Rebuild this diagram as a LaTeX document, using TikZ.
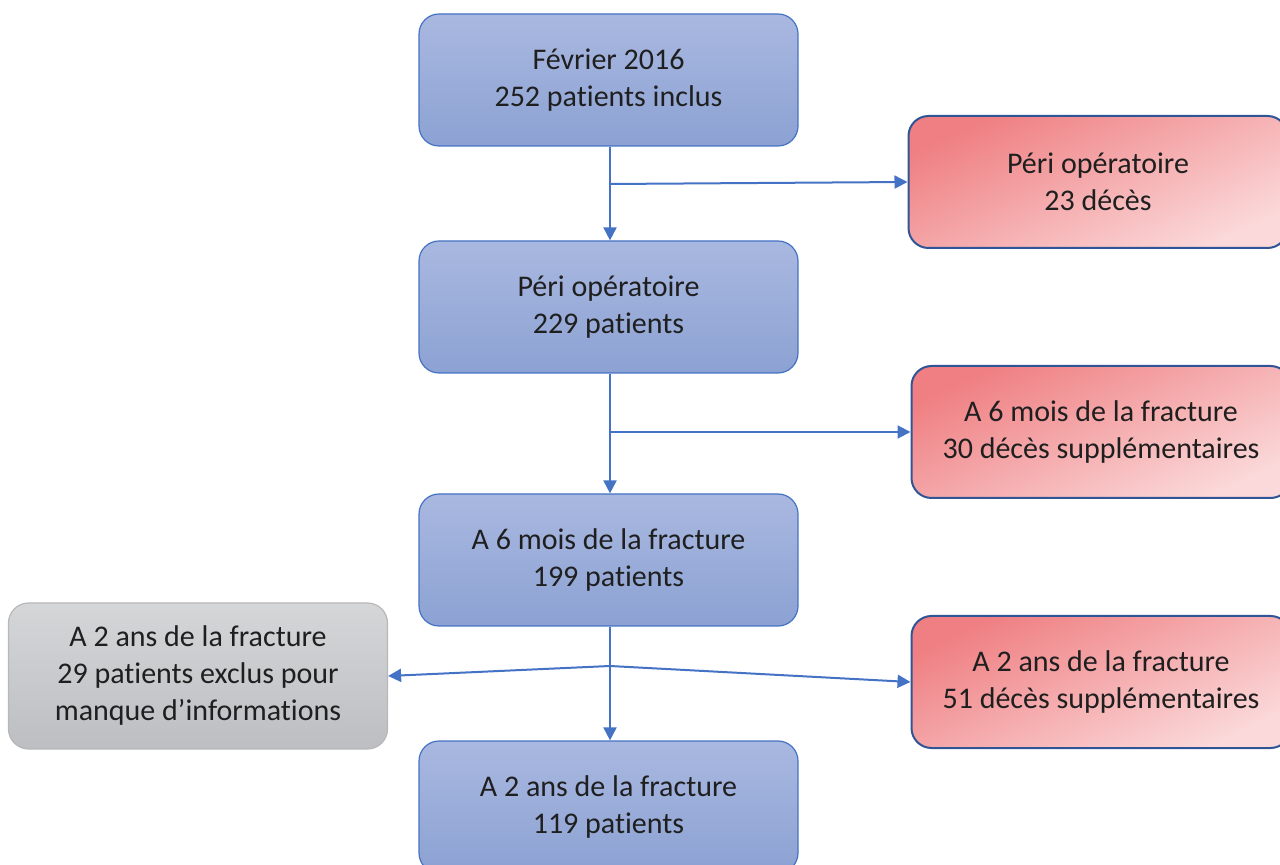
\documentclass[tikz,border=0pt]{standalone}
\usepackage{fontspec}
\setmainfont{Carlito}[Ligatures=NoCommon]
\usetikzlibrary{arrows.meta}

\definecolor{bluetop}{HTML}{A9B8E0}
\definecolor{bluebot}{HTML}{8CA2D3}
\definecolor{blueline}{HTML}{4472C4}
\definecolor{redtop}{HTML}{EF7F82}
\definecolor{redbot}{HTML}{FBD9DA}
\definecolor{redline}{HTML}{2F5597}
\definecolor{greytop}{HTML}{D5D6D8}
\definecolor{greybot}{HTML}{BDBEC1}
\definecolor{greyline}{HTML}{B8B8B8}
\definecolor{txt}{HTML}{1F1F1F}

\begin{document}
\begin{tikzpicture}[x=0.5pt, y=-0.5pt,
    box/.style={rectangle, rounded corners=10pt, minimum width=189.5pt, minimum height=66pt,
        align=center, text=txt, font=\fontsize{15}{18.5}\selectfont, line width=0.6pt},
    bluebox/.style={box, draw=blueline, top color=bluetop, bottom color=bluebot},
    redbox/.style={box, draw=redline, line width=1pt, top color=redtop, bottom color=redbot, shading angle=25},
    greybox/.style={box, draw=greyline, minimum height=73pt, top color=greytop, bottom color=greybot},
    flow/.style={draw=blueline, line width=1pt, -{Triangle[length=6.5pt, width=6.5pt]}}]

        \useasboundingbox (0, 0) rectangle (1280, 865);

        % main column
        \node[bluebox] (feb) at (608.5, 80) {Février 2016\\252 patients inclus};
        \node[bluebox] (peri) at (608.5, 307) {Péri opératoire\\229 patients};
        \node[bluebox] (six) at (608.5, 560) {A 6 mois de la fracture\\199 patients};
        \node[bluebox] (two) at (608.5, 807) {A 2 ans de la fracture\\119 patients};

        % side boxes
        \node[redbox] (deadperi) at (1098, 182) {Péri opératoire\\23 décès};
        \node[redbox] (deadsix) at (1101, 432) {A 6 mois de la fracture\\30 décès supplémentaires};
        \node[redbox] (deadtwo) at (1101, 682) {A 2 ans de la fracture\\51 décès supplémentaires};
        \node[greybox] (lost) at (198, 676) {A 2 ans de la fracture\\29 patients exclus pour\\manque d’informations};

        \coordinate (split1) at (610, 184);
        \coordinate (split2) at (610, 432);
        \coordinate (split3) at (610, 666);

        \draw[flow] (feb.south -| split1) -- (peri.north -| split1);
        \draw[flow] (peri.south -| split1) -- (six.north -| split1);
        \draw[flow] (six.south -| split1) -- (two.north -| split1);
        \draw[flow] (split1) -- (deadperi.west);
        \draw[flow] (split2) -- (deadsix.west);
        \draw[flow] (split3) -- (deadtwo.west);
        \draw[flow] (split3) -- (lost.east);
    \end{tikzpicture}
\end{document}
